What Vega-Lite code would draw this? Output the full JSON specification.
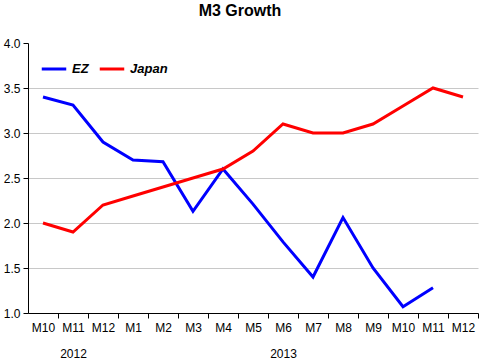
{
  "$schema": "https://vega.github.io/schema/vega-lite/v6.json",
  "width": 450,
  "height": 270,
  "autosize": {"type": "none"},
  "padding": {"left": 28, "top": 43, "right": 2, "bottom": 46},
  "background": "white",
  "title": {"text": "M3 Growth", "fontSize": 16, "fontWeight": "bold", "font": "Liberation Sans", "color": "black", "anchor": "middle", "dx": -13, "offset": 18},
  "data": {"values": [
    {"period": "2012-10", "series": "EZ", "value": 3.40},
    {"period": "2012-11", "series": "EZ", "value": 3.31},
    {"period": "2012-12", "series": "EZ", "value": 2.90},
    {"period": "2013-01", "series": "EZ", "value": 2.70},
    {"period": "2013-02", "series": "EZ", "value": 2.68},
    {"period": "2013-03", "series": "EZ", "value": 2.13},
    {"period": "2013-04", "series": "EZ", "value": 2.60},
    {"period": "2013-05", "series": "EZ", "value": 2.21},
    {"period": "2013-06", "series": "EZ", "value": 1.79},
    {"period": "2013-07", "series": "EZ", "value": 1.40},
    {"period": "2013-08", "series": "EZ", "value": 2.06},
    {"period": "2013-09", "series": "EZ", "value": 1.50},
    {"period": "2013-10", "series": "EZ", "value": 1.07},
    {"period": "2013-11", "series": "EZ", "value": 1.28},
    {"period": "2012-10", "series": "Japan", "value": 2.0},
    {"period": "2012-11", "series": "Japan", "value": 1.9},
    {"period": "2012-12", "series": "Japan", "value": 2.2},
    {"period": "2013-01", "series": "Japan", "value": 2.3},
    {"period": "2013-02", "series": "Japan", "value": 2.4},
    {"period": "2013-03", "series": "Japan", "value": 2.5},
    {"period": "2013-04", "series": "Japan", "value": 2.6},
    {"period": "2013-05", "series": "Japan", "value": 2.8},
    {"period": "2013-06", "series": "Japan", "value": 3.1},
    {"period": "2013-07", "series": "Japan", "value": 3.0},
    {"period": "2013-08", "series": "Japan", "value": 3.0},
    {"period": "2013-09", "series": "Japan", "value": 3.1},
    {"period": "2013-10", "series": "Japan", "value": 3.3},
    {"period": "2013-11", "series": "Japan", "value": 3.5},
    {"period": "2013-12", "series": "Japan", "value": 3.4}
  ]},
  "mark": {"type": "line", "strokeWidth": 3},
  "encoding": {
    "x": {
      "field": "period", "type": "ordinal",
      "scale": {"type": "point", "padding": 0.5},
      "axis": {
        "title": null,
        "labelExpr": "datum.value == '2012-11' || datum.value == '2013-06' ? ['M' + toNumber(slice(datum.value, 5)), slice(datum.value, 0, 4)] : 'M' + toNumber(slice(datum.value, 5))",
        "labelAngle": 0,
        "labelLineHeight": 26,
        "labelBaseline": "top",
        "tickOffset": 15,
        "labelOffset": -15,
        "domainColor": "black",
        "tickColor": "black",
        "tickSize": 5,
        "labelPadding": 4,
        "labelFont": "Liberation Sans",
        "labelFontSize": 12,
        "labelColor": "black",
        "grid": false
      }
    },
    "y": {
      "field": "value", "type": "quantitative",
      "scale": {"domain": [1, 4], "zero": false, "nice": false},
      "axis": {
        "title": null,
        "values": [1, 1.5, 2, 2.5, 3, 3.5, 4],
        "format": ".1f",
        "grid": true,
        "gridColor": {"condition": {"test": "datum.value >= 4", "value": "transparent"}, "value": "#c8c8c8"},
        "domainColor": "black",
        "tickColor": "black",
        "tickSize": 5,
        "labelPadding": 3,
        "labelFont": "Liberation Sans",
        "labelFontSize": 12,
        "labelColor": "black"
      }
    },
    "color": {
      "field": "series", "type": "nominal",
      "scale": {"domain": ["EZ", "Japan"], "range": ["#0000ff", "#ff0000"]},
      "legend": {
        "title": null,
        "orient": "top-left",
        "direction": "horizontal",
        "offset": 12,
        "symbolType": "stroke",
        "symbolStrokeWidth": 3,
        "symbolSize": 600,
        "labelFont": "Liberation Sans",
        "labelFontSize": 13,
        "labelFontWeight": "bold",
        "labelFontStyle": "italic",
        "labelColor": "black",
        "columnPadding": 4
      }
    }
  },
  "config": {"view": {"stroke": null}}
}
